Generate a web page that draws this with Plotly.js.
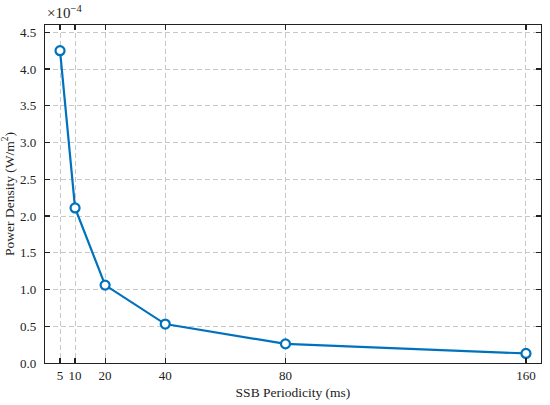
<!DOCTYPE html>
<html>
<head>
<meta charset="utf-8">
<script src="https://cdn.plot.ly/plotly-3.0.1.min.js"></script>
<style>html,body{margin:0;padding:0;background:#fff;}#chart{width:550px;height:405px;}</style>
</head>
<body>
<div id="chart"></div>
<script>
// SSB periodicity (ms)
const periodicity = [5, 10, 20, 40, 80, 160];
// Power density in units of 1e-4 W/m^2
const powerDensity = [4.25, 2.11, 1.06, 0.53, 0.26, 0.13];
const xTicks = [5, 10, 20, 40, 80, 160];
const yTicks = [0, 0.5, 1.0, 1.5, 2.0, 2.5, 3.0, 3.5, 4.0, 4.5];
const yTickLabels = ['0.0','0.5','1.0','1.5','2.0','2.5','3.0','3.5','4.0','4.5'];

const font = {family: 'Liberation Serif, serif', size: 13, color: '#222'};

const trace = {
  x: periodicity,
  y: powerDensity,
  type: 'scatter',
  mode: 'lines+markers',
  line: {color: '#0072BD', width: 2.2},
  marker: {symbol: 'circle', size: 9, color: '#ffffff', line: {color: '#0072BD', width: 2.2}},
  cliponaxis: false
};

const axisCommon = {
  showline: true, linecolor: '#222', linewidth: 1.2, mirror: 'ticks',
  ticks: 'inside', ticklen: 5, tickwidth: 1.2, tickcolor: '#222',
  showgrid: true, gridcolor: '#c8c8c8', griddash: '5px,3px', gridwidth: 1,
  zeroline: false, tickfont: font
};

const layout = {
  width: 550, height: 405,
  margin: {l: 45, r: 9, t: 25, b: 42},
  paper_bgcolor: '#fff', plot_bgcolor: '#fff',
  showlegend: false,
  font: font,
  xaxis: Object.assign({}, axisCommon, {
    range: [0, 165], tickvals: xTicks, ticktext: xTicks.map(String),
    title: {text: 'SSB Periodicity (ms)', font: Object.assign({}, font, {size: 13.5}), standoff: 5}
  }),
  yaxis: Object.assign({}, axisCommon, {
    range: [0, 4.6], tickvals: yTicks, ticktext: yTickLabels, ticklabelstandoff: 5,
    title: {text: 'Power Density (W/m<sup>2</sup>)', font: Object.assign({}, font, {size: 13.5}), standoff: 2}
  }),
  annotations: [{
    xref: 'paper', yref: 'paper', x: 0, y: 1, xanchor: 'left', yanchor: 'bottom',
    yshift: 2, showarrow: false,
    text: '×10<sup>−4</sup>', font: Object.assign({}, font, {size: 15})
  }]
};

Plotly.newPlot('chart', [trace], layout, {displayModeBar: false, staticPlot: true});
</script>
</body>
</html>
